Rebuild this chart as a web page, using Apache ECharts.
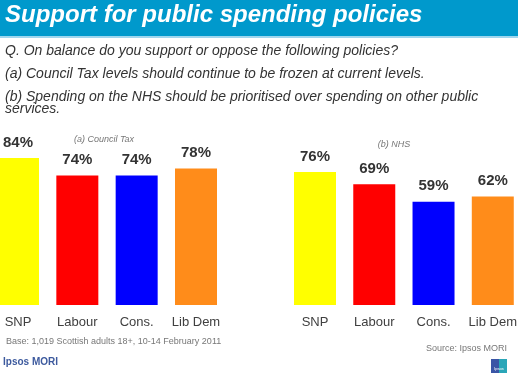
<!DOCTYPE html>
<html>
<head>
<meta charset="UTF-8">
<script src="https://cdn.jsdelivr.net/npm/echarts@6/dist/echarts.min.js"></script>
<style>
  html, body { margin: 0; padding: 0; background: #fff; }
  #main { width: 520px; height: 375px; }
</style>
</head>
<body>
<div id="main"></div>
<script>
// data
var parties = ['SNP', 'Labour', 'Cons.', 'Lib Dem'];
var councilTax = [84, 74, 74, 78];
var nhs = [76, 69, 59, 62];
var partyColours = ['#ffff00', '#ff0000', '#0000ff', '#ff8c1a'];

var font = '"Liberation Sans", Arial, sans-serif';

function barData(vals) {
  var out = [];
  for (var i = 0; i < vals.length; i++) {
    out.push({ value: vals[i], itemStyle: { color: partyColours[i] } });
  }
  return out;
}

var myChart = echarts.init(document.getElementById('main'));

// bars sit on the ticks (boundaryGap false), grid spans first..last bar centre
var catAxis = function (idx) {
  return {
    type: 'category', gridIndex: idx, data: parties, boundaryGap: false,
    axisLine: { show: false }, axisTick: { show: false },
    axisLabel: { interval: 0, color: '#404040', fontSize: 13, fontFamily: font, margin: 11 }
  };
};
var valAxis = function (idx) {
  return { type: 'value', gridIndex: idx, min: 0, max: 100, show: false };
};
var barSeries = function (idx, vals) {
  return {
    type: 'bar', xAxisIndex: idx, yAxisIndex: idx, clip: false,
    barWidth: 42, data: barData(vals),
    label: {
      show: true, position: 'top', distance: 8,
      formatter: '{c}%', color: '#333', fontSize: 15, fontWeight: 'bold', fontFamily: font
    }
  };
};

myChart.setOption({
  animation: false,
  grid: [
    { left: 18, width: 178, top: 130, bottom: 70 },
    { left: 315, width: 178, top: 130, bottom: 70 }
  ],
  xAxis: [catAxis(0), catAxis(1)],
  yAxis: [valAxis(0), valAxis(1)],
  series: [barSeries(0, councilTax), barSeries(1, nhs)],
  graphic: [
    // title bar
    { type: 'rect', shape: { x: 0, y: 0, width: 518, height: 36 }, style: { fill: '#0099cc' } },
    { type: 'rect', shape: { x: 0, y: 36, width: 518, height: 2 }, style: { fill: '#9fd6ee' } },
    { type: 'text', left: 5, top: 3, style: {
        text: 'Support for public spending policies', fill: '#fff',
        font: 'italic bold 24px ' + font } },
    // question text
    { type: 'text', left: 5, top: 44, style: {
        text: 'Q. On balance do you support or oppose the following policies?',
        fill: '#333', font: 'italic 14px ' + font } },
    { type: 'text', left: 5, top: 67, style: {
        text: '(a) Council Tax levels should continue to be frozen at current levels.',
        fill: '#333', font: 'italic 14px ' + font } },
    { type: 'text', left: 5, top: 90, style: {
        text: '(b) Spending on the NHS should be prioritised over spending on other public',
        fill: '#333', font: 'italic 14px ' + font } },
    { type: 'text', left: 5, top: 102, style: {
        text: 'services.', fill: '#333', font: 'italic 14px ' + font } },
    // panel subtitles
    { type: 'text', x: 104, y: 139, style: {
        text: '(a) Council Tax', fill: '#777', align: 'center', verticalAlign: 'middle',
        font: 'italic 9px ' + font } },
    { type: 'text', x: 394, y: 144, style: {
        text: '(b) NHS', fill: '#777', align: 'center', verticalAlign: 'middle',
        font: 'italic 9px ' + font } },
    // footer
    { type: 'text', left: 6, top: 337, style: {
        text: 'Base: 1,019 Scottish adults 18+, 10-14 February 2011',
        fill: '#777', font: '9px ' + font } },
    { type: 'text', right: 13, top: 344, style: {
        text: 'Source: Ipsos MORI', fill: '#777', font: '9px ' + font } },
    { type: 'text', left: 3, top: 357, style: {
        text: 'Ipsos MORI', fill: '#3d5a9e', font: 'bold 10px ' + font } },
    // logo
    { type: 'rect', shape: { x: 491, y: 359, width: 16, height: 14 }, style: { fill: '#2aa6b8' } },
    { type: 'rect', shape: { x: 491, y: 359, width: 8, height: 14 }, style: { fill: '#3b55a6' } },
    { type: 'text', x: 499, y: 369, style: {
        text: 'Ipsos', fill: '#fff', align: 'center', verticalAlign: 'middle', font: '4px ' + font } }
  ]
});
</script>
</body>
</html>
